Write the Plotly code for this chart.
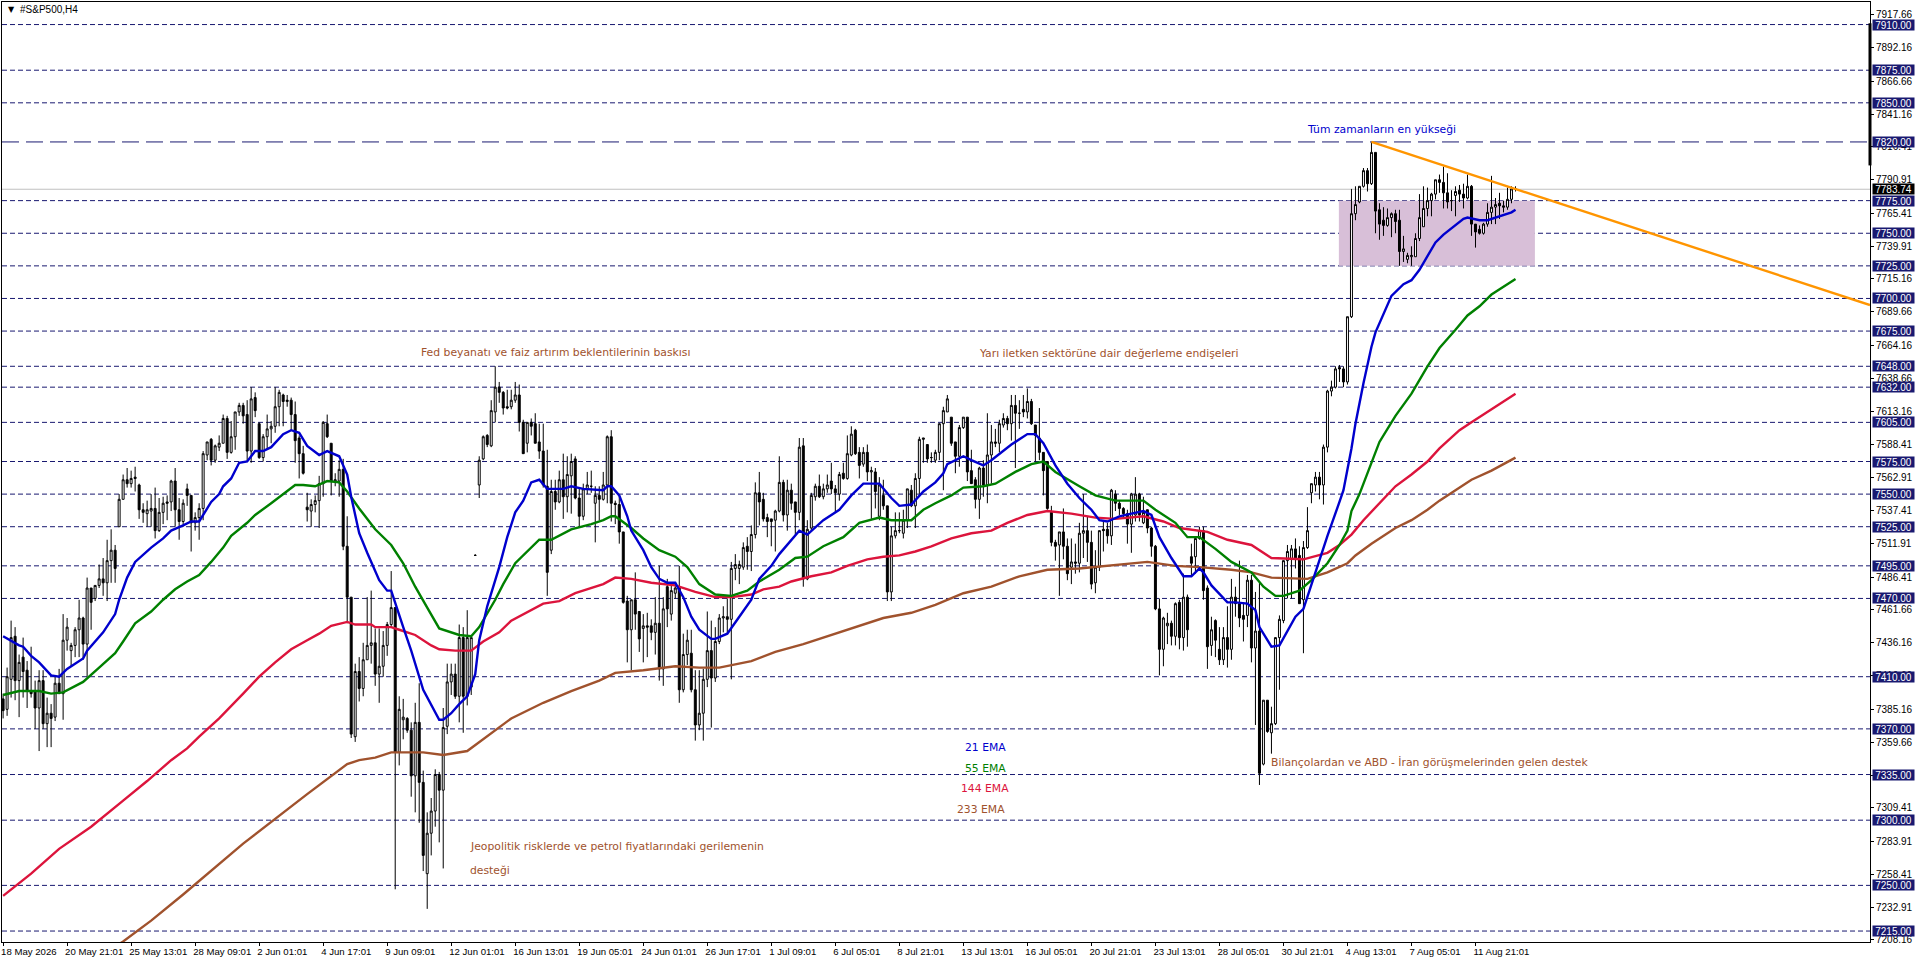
import plotly.graph_objects as go

# #S&P500 H4 candles, oldest first
opens = [
    7393,7385,7408,7441,7407,7425,7415,7399,7399,7386,
    7407,7374,7382,7379,7405,7397,7438,7430,7434,7446,
    7455,7435,7478,7470,7480,7485,7482,7499,7507,7525,
    7546,7561,7558,7563,7557,7538,7535,7537,7539,7522,
    7536,7544,7544,7560,7538,7529,7554,7549,7528,7532,
    7539,7580,7592,7576,7586,7589,7608,7582,7594,7613,
    7618,7611,7583,7624,7604,7578,7594,7600,7602,7617,
    7626,7621,7622,7611,7593,7581,7540,7537,7542,7545,
    7558,7604,7589,7560,7560,7569,7510,7471,7364,7414,
    7401,7423,7434,7436,7412,7418,7434,7450,7463,7352,
    7377,7378,7369,7334,7375,7329,7259,7290,7307,7335,
    7323,7372,7406,7412,7395,7440,7395,7402,7503,7557,
    7577,7595,7587,7613,7632,7628,7617,7617,7622,7626,
    7605,7589,7605,7604,7590,7583,7556,7507,7552,7544,
    7561,7548,7564,7577,7547,7533,7554,7556,7543,7549,
    7546,7557,7594,7543,7542,7521,7468,7446,7469,7460,
    7447,7449,7449,7444,7451,7416,7479,7458,7474,7479,
    7400,7427,7428,7400,7373,7382,7408,7430,7409,7437,
    7455,7456,7454,7493,7493,7494,7510,7506,7519,7551,
    7546,7532,7531,7530,7537,7559,7534,7553,7544,7536,
    7587,7485,7524,7548,7556,7548,7554,7560,7554,7550,
    7566,7562,7580,7599,7582,7573,7582,7567,7567,7533,
    7549,7541,7475,7518,7522,7520,7530,7553,7541,7562,
    7592,7588,7578,7576,7582,7604,7613,7609,7590,7579,
    7601,7609,7568,7561,7546,7570,7557,7580,7590,7589,
    7603,7608,7604,7618,7612,7615,7613,7621,7603,7593,
    7582,7575,7536,7513,7511,7521,7510,7494,7498,7497,
    7520,7522,7513,7482,7494,7523,7523,7518,7550,7543,
    7539,7535,7527,7534,7550,7528,7538,7524,7510,7462,
    7431,7449,7451,7441,7467,7440,7471,7502,7502,7516,
    7522,7478,7434,7453,7431,7423,7440,7431,7471,7466,
    7457,7457,7484,7432,7445,7343,7392,7367,7374,7440,
    7453,7499,7500,7508,7503,7469,7509,7551,7557,7563,
    7557,7586,7629,7632,7647,7646,7636,7686,7765,7774,
    7786,7798,7788,7812,7768,7760,7756,7762,7765,7760,
    7736,7730,7732,7732,7746,7755,7769,7775,7780,7791,
    7789,7781,7775,7779,7783,7780,7777,7786,7757,7753,
    7750,7757,7766,7770,7773,7771,7770,7776,7784,
]
highs = [
    7397,7417,7453,7448,7427,7440,7422,7433,7407,7415,
    7415,7394,7389,7410,7416,7458,7455,7436,7448,7469,
    7456,7486,7478,7480,7496,7501,7515,7523,7511,7550,
    7565,7570,7568,7571,7558,7543,7545,7550,7555,7547,
    7548,7549,7561,7570,7547,7546,7558,7549,7536,7543,
    7583,7590,7593,7588,7595,7611,7610,7606,7613,7620,
    7620,7622,7632,7628,7605,7596,7611,7606,7632,7630,
    7627,7626,7624,7621,7595,7587,7551,7546,7549,7564,
    7606,7611,7589,7566,7576,7577,7533,7471,7420,7425,
    7436,7471,7476,7447,7447,7445,7452,7491,7463,7395,
    7393,7379,7375,7390,7405,7338,7306,7317,7339,7337,
    7386,7420,7420,7420,7450,7448,7461,7440,7504,7579,
    7595,7596,7622,7648,7636,7629,7630,7630,7636,7634,
    7607,7605,7608,7612,7604,7604,7584,7561,7561,7568,
    7581,7579,7581,7579,7554,7558,7567,7568,7556,7556,
    7567,7595,7599,7545,7549,7521,7472,7469,7490,7460,
    7458,7459,7454,7471,7495,7471,7485,7480,7482,7495,
    7443,7446,7446,7415,7415,7416,7460,7453,7448,7458,
    7464,7470,7498,7504,7499,7513,7517,7526,7559,7567,
    7551,7535,7531,7538,7579,7561,7561,7558,7544,7593,
    7593,7530,7551,7558,7565,7558,7565,7574,7557,7567,
    7574,7595,7602,7600,7586,7586,7588,7571,7570,7563,
    7561,7541,7525,7536,7536,7538,7554,7557,7566,7594,
    7593,7588,7582,7584,7604,7617,7626,7609,7590,7603,
    7609,7609,7584,7563,7571,7576,7612,7603,7600,7607,
    7612,7610,7626,7626,7622,7626,7631,7623,7603,7616,
    7582,7575,7541,7515,7521,7539,7516,7516,7512,7528,
    7550,7533,7522,7507,7522,7530,7528,7554,7553,7545,
    7540,7538,7551,7563,7551,7548,7538,7525,7511,7470,
    7456,7459,7453,7467,7469,7489,7473,7512,7516,7525,
    7525,7480,7456,7454,7448,7448,7464,7485,7479,7499,
    7467,7488,7488,7475,7483,7392,7392,7387,7440,7457,
    7499,7511,7511,7516,7510,7514,7540,7558,7567,7567,
    7588,7630,7637,7648,7649,7648,7686,7784,7786,7786,
    7800,7800,7820,7812,7773,7770,7769,7766,7768,7768,
    7748,7735,7740,7750,7780,7786,7785,7781,7791,7795,
    7801,7796,7783,7786,7787,7788,7795,7787,7757,7756,
    7758,7773,7794,7777,7781,7775,7785,7786,7786,
]
lows = [
    7378,7380,7394,7392,7379,7394,7386,7394,7370,7353,
    7370,7356,7356,7376,7397,7377,7430,7418,7425,7425,
    7423,7410,7446,7468,7478,7472,7468,7482,7482,7525,
    7546,7555,7555,7552,7531,7528,7525,7525,7516,7521,
    7527,7530,7537,7525,7515,7525,7541,7506,7522,7515,
    7530,7576,7572,7574,7583,7589,7577,7581,7584,7610,
    7604,7575,7574,7609,7577,7575,7584,7589,7597,7602,
    7602,7617,7599,7574,7562,7565,7529,7525,7536,7524,
    7548,7593,7549,7556,7548,7507,7451,7363,7360,7391,
    7395,7423,7420,7403,7390,7410,7426,7448,7247,7342,
    7362,7367,7318,7306,7298,7261,7232,7273,7295,7283,
    7263,7366,7396,7393,7375,7367,7388,7396,7503,7547,
    7576,7586,7586,7605,7620,7611,7615,7615,7620,7598,
    7581,7582,7595,7589,7577,7555,7472,7504,7538,7543,
    7531,7536,7535,7546,7525,7530,7550,7551,7513,7530,
    7545,7543,7529,7527,7512,7466,7421,7415,7446,7429,
    7421,7425,7438,7427,7407,7403,7448,7453,7470,7390,
    7398,7419,7398,7361,7369,7361,7402,7371,7406,7435,
    7444,7443,7408,7484,7481,7492,7492,7491,7516,7526,
    7529,7517,7510,7506,7536,7529,7522,7538,7519,7530,
    7479,7484,7522,7545,7547,7546,7551,7550,7536,7545,
    7561,7561,7579,7580,7562,7571,7560,7531,7539,7530,
    7538,7468,7468,7516,7520,7516,7524,7540,7524,7548,
    7574,7574,7574,7574,7576,7553,7613,7587,7566,7571,
    7600,7560,7558,7539,7531,7548,7543,7558,7586,7582,
    7601,7599,7591,7570,7600,7609,7608,7603,7575,7576,
    7549,7538,7510,7499,7472,7500,7484,7481,7489,7490,
    7501,7498,7477,7474,7491,7506,7512,7511,7537,7534,
    7531,7512,7505,7529,7529,7527,7520,7502,7461,7411,
    7418,7435,7434,7434,7431,7430,7433,7488,7489,7515,
    7469,7416,7426,7425,7419,7419,7417,7423,7456,7448,
    7437,7448,7421,7373,7327,7342,7367,7351,7373,7400,
    7451,7470,7470,7493,7466,7428,7508,7543,7552,7546,
    7542,7582,7625,7631,7636,7632,7634,7685,7760,7773,
    7785,7782,7787,7750,7745,7748,7755,7747,7750,7725,
    7728,7727,7725,7732,7744,7755,7763,7763,7776,7781,
    7769,7769,7767,7763,7774,7769,7776,7748,7739,7749,
    7749,7755,7757,7757,7761,7766,7768,7773,7782,
]
closes = [
    7384,7410,7440,7407,7421,7414,7399,7397,7386,7407,
    7374,7382,7378,7405,7397,7438,7448,7434,7446,7455,
    7435,7478,7467,7480,7485,7482,7499,7507,7493,7546,
    7561,7558,7562,7562,7538,7536,7538,7539,7522,7536,
    7543,7543,7560,7538,7529,7543,7549,7528,7532,7539,
    7581,7590,7576,7587,7589,7608,7582,7594,7613,7618,
    7610,7583,7623,7614,7578,7594,7600,7602,7617,7628,
    7621,7622,7611,7591,7581,7566,7538,7542,7545,7558,
    7605,7594,7560,7561,7569,7510,7471,7366,7414,7401,
    7423,7434,7436,7412,7418,7434,7450,7463,7352,7385,
    7379,7369,7334,7375,7329,7273,7290,7307,7335,7323,
    7371,7406,7412,7395,7440,7395,7440,7440,7503,7576,
    7594,7588,7614,7632,7628,7616,7616,7622,7626,7605,
    7581,7605,7602,7589,7583,7557,7490,7552,7544,7561,
    7548,7565,7575,7547,7533,7554,7557,7556,7549,7546,
    7557,7594,7543,7542,7521,7467,7446,7469,7458,7439,
    7449,7448,7444,7451,7416,7462,7462,7476,7478,7400,
    7427,7438,7400,7373,7382,7408,7430,7409,7437,7455,
    7456,7454,7493,7496,7496,7509,7506,7519,7551,7544,
    7531,7529,7529,7537,7559,7534,7553,7543,7536,7586,
    7485,7523,7549,7556,7548,7554,7557,7554,7551,7565,
    7562,7581,7596,7581,7572,7582,7567,7568,7552,7557,
    7541,7475,7518,7522,7522,7530,7554,7541,7562,7592,
    7593,7577,7578,7582,7604,7614,7623,7589,7579,7601,
    7609,7567,7558,7546,7570,7557,7580,7590,7589,7604,
    7608,7604,7618,7612,7612,7613,7621,7604,7595,7582,
    7568,7539,7513,7510,7521,7510,7489,7498,7497,7520,
    7522,7513,7481,7494,7522,7522,7518,7553,7543,7539,
    7535,7527,7550,7550,7534,7536,7524,7510,7462,7431,
    7455,7451,7441,7466,7440,7471,7446,7497,7516,7522,
    7476,7433,7446,7438,7423,7440,7431,7471,7466,7455,
    7454,7484,7432,7445,7336,7392,7368,7374,7440,7454,
    7499,7506,7508,7501,7466,7509,7522,7558,7563,7557,
    7586,7629,7632,7646,7646,7636,7686,7765,7772,7786,
    7798,7788,7812,7767,7757,7756,7762,7765,7759,7736,
    7738,7733,7733,7746,7762,7769,7775,7780,7791,7789,
    7781,7774,7775,7782,7780,7777,7786,7757,7751,7750,
    7757,7766,7770,7772,7771,7770,7776,7784,7783.74,
]
assert len(opens) == len(highs) == len(lows) == len(closes) == 379

# moving averages, bar number and price read at the turning points
ema21_bar = [0,4,5,7,9,12,14,16,20,21,25,28,29,31,33,37,40,42,45,47,49,52,54,55,57,59,61,63,65,67,70,72,74,76,79,81,84,86,87,89,91,94,96,97,100,102,105,107,109,110,112,114,116,118,119,121,124,126,128,130,132,134,136,140,142,145,150,151,152,154,156,157,160,162,164,166,168,170,172,174,177,178,181,184,187,189,192,194,197,199,201,205,209,212,215,219,222,224,227,230,233,235,236,240,242,245,247,252,256,258,260,263,266,269,272,274,276,279,282,285,287,289,292,295,297,299,300,302,306,308,311,313,314,317,319,323,325,327,331,334,335,337,338,340,342,343,345,347,350,352,354,356,358,360,362,365,366,369,371,374,377,378]
ema21_val = [7441,7434,7433,7426,7421,7411,7410,7416,7424,7430,7444,7458,7469,7486,7498,7509,7516,7522,7526,7529,7529,7544,7550,7556,7562,7574,7575,7583,7583,7586,7596,7599,7597,7587,7580,7583,7579,7565,7548,7520,7505,7484,7476,7476,7448,7430,7400,7388,7377,7377,7382,7389,7395,7412,7438,7464,7494,7517,7536,7545,7559,7561,7554,7554,7556,7554,7553,7556,7556,7549,7533,7522,7507,7494,7485,7482,7482,7471,7456,7446,7439,7439,7443,7456,7469,7485,7495,7504,7515,7522,7519,7530,7538,7549,7558,7558,7547,7541,7542,7552,7559,7566,7573,7579,7576,7572,7576,7588,7596,7596,7589,7572,7558,7547,7538,7530,7529,7533,7535,7537,7534,7517,7501,7487,7487,7493,7490,7480,7467,7467,7466,7461,7448,7433,7434,7456,7462,7481,7518,7544,7553,7585,7604,7635,7663,7674,7688,7702,7711,7714,7722,7733,7743,7749,7754,7761,7762,7760,7760,7763,7766,7768]
ema55_bar = [0,4,9,12,15,17,20,24,28,30,33,37,40,43,46,49,52,55,57,61,63,67,71,73,75,78,81,84,86,89,93,97,100,103,106,109,114,117,119,123,125,128,134,137,142,147,150,152,153,157,160,164,168,171,174,178,182,186,189,194,198,201,205,210,214,219,222,227,230,233,237,240,245,248,253,257,260,263,269,273,278,285,288,293,296,299,303,307,312,315,318,320,324,327,331,334,336,337,339,342,344,348,352,356,359,363,366,369,372,378]
ema55_val = [7396,7399,7399,7397,7398,7401,7406,7417,7428,7437,7451,7460,7469,7477,7483,7488,7498,7509,7518,7528,7534,7543,7552,7557,7557,7556,7560,7559,7552,7539,7523,7511,7497,7479,7463,7447,7442,7441,7448,7469,7481,7497,7515,7515,7523,7527,7530,7533,7533,7524,7516,7507,7502,7494,7481,7473,7472,7476,7483,7492,7501,7502,7510,7517,7528,7532,7530,7530,7538,7543,7549,7555,7556,7558,7567,7573,7575,7567,7556,7549,7545,7545,7538,7528,7517,7517,7508,7498,7490,7479,7472,7472,7476,7484,7497,7511,7522,7537,7550,7575,7590,7610,7627,7648,7662,7676,7687,7694,7703,7715]
ema144_bar = [0,7,14,22,30,36,42,46,49,54,60,64,68,72,76,79,82,86,88,92,93,97,99,103,107,109,113,117,120,124,127,132,135,139,143,150,153,157,162,168,173,178,182,187,190,194,197,202,207,211,216,220,224,228,232,237,242,247,251,256,261,267,273,278,285,290,294,301,306,312,317,325,331,334,337,340,343,348,352,356,359,364,367,372,378]
ema144_val = [7242,7259,7278,7295,7315,7330,7346,7355,7364,7378,7397,7410,7421,7431,7438,7443,7449,7452,7450,7450,7448,7448,7446,7442,7434,7431,7430,7430,7437,7444,7453,7461,7466,7468,7474,7481,7486,7485,7482,7480,7475,7471,7471,7473,7477,7479,7483,7487,7490,7495,7500,7502,7503,7506,7510,7516,7520,7522,7528,7534,7537,7535,7532,7531,7533,7529,7524,7521,7515,7511,7501,7500,7505,7511,7519,7530,7540,7556,7565,7575,7585,7599,7605,7615,7627]
ema233_bar = [28,30,37,45,60,76,86,89,93,97,105,110,116,120,127,135,142,149,153,160,168,174,179,187,193,200,207,214,220,227,233,240,247,254,261,269,279,286,293,299,307,312,317,326,331,334,336,338,342,348,352,356,359,363,367,372,378]
ema233_val = [7203,7207,7223,7243,7282,7320,7343,7346,7348,7352,7352,7350,7353,7362,7378,7390,7399,7407,7413,7415,7418,7417,7417,7422,7429,7435,7442,7449,7455,7459,7465,7474,7479,7487,7492,7493,7496,7498,7495,7494,7492,7490,7486,7485,7490,7494,7497,7503,7512,7524,7530,7538,7545,7553,7561,7568,7578]

# trend line from the all time high
trend_bar = [342, 466.6]
trend_price = [7820, 7695]

level_prices = [7910,7875,7850,7820,7775,7750,7725,7700,7675,7648,7632,7605,7575,7550,7525,7495,7470,7410,7370,7335,7300,7250,7215]
last_price = 7783.74

y_tick_vals = [7917.66,7892.16,7866.66,7841.16,7816.41,7790.91,7765.41,7739.91,7715.16,7689.66,7664.16,7638.66,7613.16,7588.41,7562.91,7537.41,7511.91,7486.41,7461.66,7436.16,7410.66,7385.16,7359.66,7334.16,7309.41,7283.91,7258.41,7232.91,7208.16]
x_tick_labels = ["18 May 2026","20 May 21:01","25 May 13:01","28 May 09:01","2 Jun 01:01","4 Jun 17:01","9 Jun 09:01","12 Jun 01:01","16 Jun 13:01","19 Jun 05:01","24 Jun 01:01","26 Jun 17:01","1 Jul 09:01","6 Jul 05:01","8 Jul 21:01","13 Jul 13:01","16 Jul 05:01","20 Jul 21:01","23 Jul 13:01","28 Jul 05:01","30 Jul 21:01","4 Aug 13:01","7 Aug 05:01","11 Aug 21:01"]

NAVY = "#191970"
SIENNA = "#A0522D"
AXIS_FONT = dict(family="Liberation Sans", size=10, color="black")
NOTE_FONT = "DejaVu Sans"

fig = go.Figure()
fig.add_trace(go.Candlestick(
    x=list(range(len(opens))),
    open=opens, high=highs, low=lows, close=closes,
    whiskerwidth=0,
    increasing=dict(fillcolor="white", line=dict(color="black", width=1)),
    decreasing=dict(fillcolor="black", line=dict(color="black", width=1)),
    hoverinfo="skip",
))
for bars, vals, color in [
    (ema233_bar, ema233_val, SIENNA),
    (ema144_bar, ema144_val, "#DC143C"),
    (ema55_bar, ema55_val, "#008000"),
    (ema21_bar, ema21_val, "#0000CD"),
]:
    fig.add_trace(go.Scatter(x=bars, y=vals, mode="lines", line=dict(color=color, width=2.4), hoverinfo="skip"))
fig.add_trace(go.Scatter(x=trend_bar, y=trend_price, mode="lines", line=dict(color="#FF9500", width=2.4), hoverinfo="skip"))

# shaded consolidation box
fig.add_shape(type="rect", x0=333.85, x1=382.85, y0=7725, y1=7775, fillcolor="#D8BFD8", line_width=0, layer="below")

for p in level_prices:
    dash = "17px,7px" if p == 7820 else "5px,3px"
    fig.add_shape(type="line", xref="paper", x0=0, x1=1, y0=p, y1=p, layer="below",
                  line=dict(color=NAVY, width=1, dash=dash))
    fig.add_annotation(xref="paper", x=1, xshift=2, xanchor="left", y=p, text=f"{p:.2f}", showarrow=False,
                       width=41, height=10, borderpad=0, bgcolor=NAVY,
                       font=dict(family="Liberation Sans", size=10, color="white"))

fig.add_shape(type="line", xref="paper", x0=0, x1=1, y0=last_price, y1=last_price, layer="below",
              line=dict(color="#C0C0C0", width=1))
fig.add_annotation(xref="paper", x=1, xshift=2, xanchor="left", y=last_price, text=f"{last_price:.2f}", showarrow=False,
                   width=41, height=10, borderpad=0, bgcolor="black",
                   font=dict(family="Liberation Sans", size=10, color="white"))

# black marker on the price scale
fig.add_shape(type="line", xref="paper", x0=1, x1=1, y0=7802, y1=7911, line=dict(color="black", width=3))

notes = [
    ("Fed beyanatı ve faiz artırım beklentilerinin baskısı", 103.9, 7658.3, SIENNA),
    ("Yarı iletken sektörüne dair değerleme endişeleri", 243.4, 7657.5, SIENNA),
    ("Tüm zamanların en yükseği", 325.4, 7829.4, "#0000CD"),
    ("21 EMA", 239.85, 7356, "#0000CD"),
    ("55 EMA", 239.85, 7340, "#008000"),
    ("144 EMA", 238.85, 7324.5, "#DC143C"),
    ("233 EMA", 237.85, 7308.4, SIENNA),
    ("Bilançolardan ve ABD - İran görüşmelerinden gelen destek", 316.35, 7344.5, SIENNA),
    ("Jeopolitik risklerde ve petrol fiyatlarındaki gerilemenin", 116.1, 7280, SIENNA),
    ("desteği", 116.1, 7261.6, SIENNA),
]
for text, bar, price, color in notes:
    fig.add_annotation(x=bar, y=price, text=text, showarrow=False, xanchor="left",
                       font=dict(family=NOTE_FONT, size=10.8, color=color))

fig.add_annotation(xref="paper", yref="paper", x=0.002, y=0.9925, xanchor="left", yanchor="middle", showarrow=False,
                   text="▼", font=dict(family="DejaVu Sans", size=8, color="black"))
fig.add_annotation(xref="paper", yref="paper", x=0.0083, y=0.9925, xanchor="left", yanchor="middle", showarrow=False,
                   text="#S&P500,H4", font=AXIS_FONT)

fig.update_layout(
    width=1916, height=963,
    margin=dict(l=2, r=46, t=2, b=21, pad=0),
    paper_bgcolor="white", plot_bgcolor="white",
    showlegend=False, hovermode=False,
    xaxis=dict(
        range=[-0.275, 466.6], rangeslider=dict(visible=False),
        tickvals=[16 * k for k in range(len(x_tick_labels))], ticktext=x_tick_labels,
        ticks="outside", ticklen=3, tickcolor="black",
        tickfont=dict(family="Liberation Sans", size=9.6, color="black"),
        ticklabelposition="outside right", ticklabelshift=-3, tickangle=0,
        showgrid=False, zeroline=False, showline=True, mirror=True, linecolor="black", linewidth=1,
    ),
    yaxis=dict(
        range=[7206.6, 7927.3], side="right",
        tickvals=y_tick_vals, ticktext=[f"{v:.2f}" for v in y_tick_vals],
        ticks="outside", ticklen=3, tickcolor="black", tickfont=AXIS_FONT,
        showgrid=False, zeroline=False, showline=True, mirror=True, linecolor="black", linewidth=1,
    ),
)

fig.write_html("out.html", config=dict(displayModeBar=False), post_script="document.body.style.margin='0';")
